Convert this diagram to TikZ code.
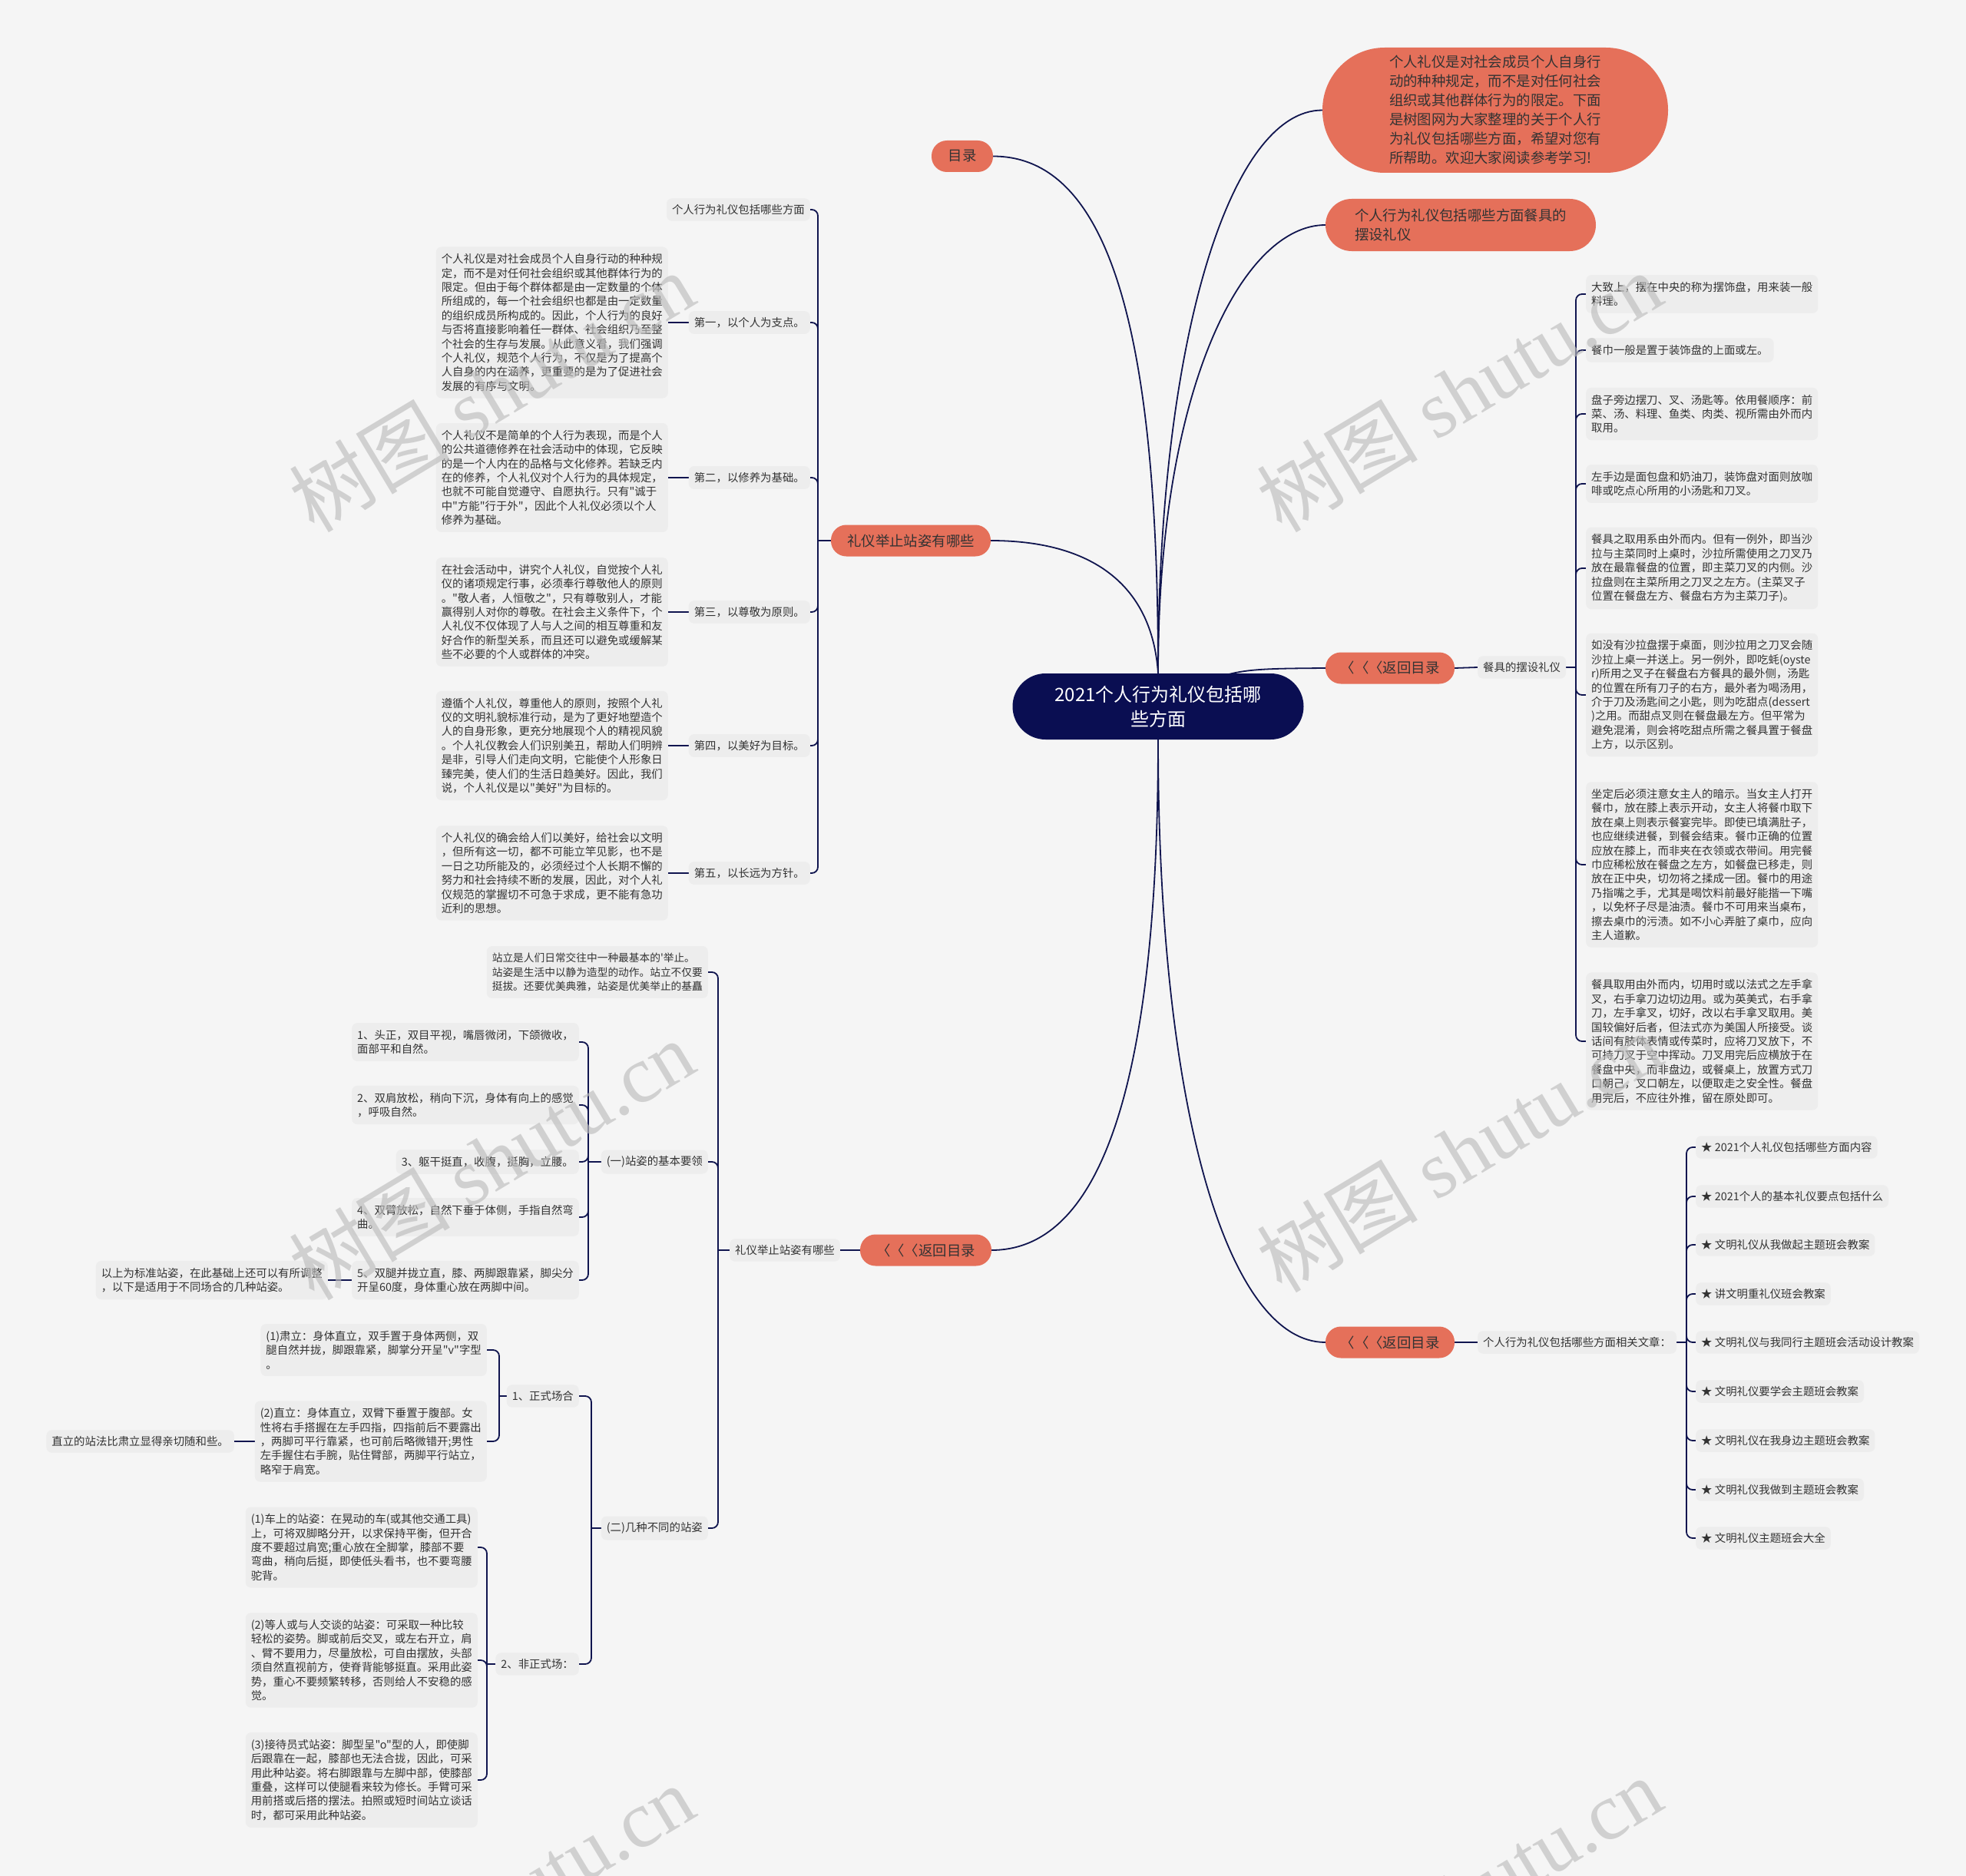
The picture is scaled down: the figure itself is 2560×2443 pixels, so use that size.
\documentclass[tikz,border=0pt]{standalone}
\usepackage{fontspec}
\setmainfont{Noto Sans CJK SC}[Ligatures=TeXOff]
\newfontfamily\wmserif{Liberation Serif}
\usetikzlibrary{calc}
\definecolor{mmnavy}{HTML}{0A0E52}
\definecolor{mmline}{HTML}{10154F}
\definecolor{mmorange}{HTML}{E5705A}
\definecolor{mmbg}{HTML}{F5F5F5}
\definecolor{mmbox}{HTML}{EDEDED}
\definecolor{mmtext}{HTML}{333333}
\definecolor{mmwm}{HTML}{BDBDBD}
\pgfdeclarelayer{back}
\pgfdeclarelayer{bg}
\pgfdeclarelayer{front}
\pgfsetlayers{back,bg,main,front}
\tikzset{
  conn/.style={draw=mmline, line width=1.8pt},
  root/.style={fill=mmnavy, text=white, rounded corners=43pt, minimum width=379pt, minimum height=86pt, align=center, inner sep=0pt, font=\fontsize{24}{32}\selectfont},
  topic/.style={fill=mmorange, text=mmtext, rounded corners=20pt, minimum height=41pt, inner xsep=0pt, inner ysep=0pt, font=\fontsize{18.4}{25}\selectfont},
  leaf/.style={fill=mmbox, text=mmtext, rounded corners=7pt, align=left, inner xsep=7pt, inner ysep=9pt, font=\fontsize{14.4}{18.4}\selectfont},
  lab/.style={fill=mmbox, text=mmtext, rounded corners=7pt, inner xsep=7pt, inner ysep=8pt, font=\fontsize{14.4}{18.4}\selectfont},
  wm/.style={text=mmwm, opacity=0.65, rotate=31, font=\fontsize{105}{110}\selectfont, inner sep=0pt}
}
\newcommand{\mmbrk}[3]{\draw[conn,rounded corners=8pt] (#1,#2) |- (#3);}
\begin{document}
\begin{tikzpicture}[x=1pt,y=-1pt]
\useasboundingbox (0,0) rectangle (2560,2443);
\begin{pgfonlayer}{back}
\fill[mmbg] (0,0) rectangle (2560,2443);
\end{pgfonlayer}

% ---------- main nodes ----------
\node[root] (C) at (1508,920) {2021个人行为礼仪包括哪\\些方面};
\node[topic, minimum width=450pt, minimum height=163pt, rounded corners=81pt, align=left] (B1) at (1947,143.5) {个人礼仪是对社会成员个人自身行\\动的种种规定，而不是对任何社会\\组织或其他群体行为的限定。下面\\是树图网为大家整理的关于个人行\\为礼仪包括哪些方面，希望对您有\\所帮助。欢迎大家阅读参考学习!};
\node[topic, minimum width=352pt, minimum height=68pt, rounded corners=34pt, align=left] (B2) at (1902,293) {个人行为礼仪包括哪些方面餐具的\\摆设礼仪};
\node[topic, minimum width=168pt] (R1) at (1810,870) {〈〈〈返回目录};
\node[topic, minimum width=168pt] (R2) at (1810,1748) {〈〈〈返回目录};
\node[topic, minimum width=80pt] (L1) at (1253,203.5) {目录};
\node[topic, minimum width=208pt] (L2) at (1186,704) {礼仪举止站姿有哪些};
\node[topic, minimum width=171pt] (L3) at (1205.5,1628) {〈〈〈返回目录};

% ---------- right upper ----------
\node[lab, anchor=west] (D1) at (1924,869) {餐具的摆设礼仪};
\node[leaf, anchor=west] (E1) at (2065,383) {大致上，摆在中央的称为摆饰盘，用来装一般\\料理。};
\node[leaf, anchor=west] (E2) at (2065,456) {餐巾一般是置于装饰盘的上面或左。};
\node[leaf, anchor=west] (E3) at (2065,539) {盘子旁边摆刀、叉、汤匙等。依用餐顺序：前\\菜、汤、料理、鱼类、肉类、视所需由外而内\\取用。};
\node[leaf, anchor=west] (E4) at (2065,630) {左手边是面包盘和奶油刀，装饰盘对面则放咖\\啡或吃点心所用的小汤匙和刀叉。};
\node[leaf, anchor=west] (E5) at (2065,740) {餐具之取用系由外而内。但有一例外，即当沙\\拉与主菜同时上桌时，沙拉所需使用之刀叉乃\\放在最靠餐盘的位置，即主菜刀叉的内侧。沙\\拉盘则在主菜所用之刀叉之左方。(主菜叉子\\位置在餐盘左方、餐盘右方为主菜刀子)。};
\node[leaf, anchor=west] (E6) at (2065,905) {如没有沙拉盘摆于桌面，则沙拉用之刀叉会随\\沙拉上桌一并送上。另一例外，即吃蚝(oyste\\r)所用之叉子在餐盘右方餐具的最外侧，汤匙\\的位置在所有刀子的右方，最外者为喝汤用，\\介于刀及汤匙间之小匙，则为吃甜点(dessert\\)之用。而甜点叉则在餐盘最左方。但平常为\\避免混淆，则会将吃甜点所需之餐具置于餐盘\\上方，以示区别。};
\node[leaf, anchor=west] (E7) at (2065,1126) {坐定后必须注意女主人的暗示。当女主人打开\\餐巾，放在膝上表示开动，女主人将餐巾取下\\放在桌上则表示餐宴完毕。即使已填满肚子，\\也应继续进餐，到餐会结束。餐巾正确的位置\\应放在膝上，而非夹在衣领或衣带间。用完餐\\巾应稀松放在餐盘之左方，如餐盘已移走，则\\放在正中央，切勿将之揉成一团。餐巾的用途\\乃指嘴之手，尤其是喝饮料前最好能揩一下嘴\\，以免杯子尽是油渍。餐巾不可用来当桌布，\\擦去桌巾的污渍。如不小心弄脏了桌巾，应向\\主人道歉。};
\node[leaf, anchor=west] (E8) at (2065,1356) {餐具取用由外而内，切用时或以法式之左手拿\\叉，右手拿刀边切边用。或为英美式，右手拿\\刀，左手拿叉，切好，改以右手拿叉取用。美\\国较偏好后者，但法式亦为美国人所接受。谈\\话间有肢体表情或传菜时，应将刀叉放下，不\\可持刀叉于空中挥动。刀叉用完后应横放于在\\餐盘中央，而非盘边，或餐桌上，放置方式刀\\口朝己，叉口朝左，以便取走之安全性。餐盘\\用完后，不应往外推，留在原处即可。};

% ---------- right lower ----------
\node[lab, anchor=west] (D2) at (1924,1748) {个人行为礼仪包括哪些方面相关文章：};
\node[lab, anchor=west] (F1) at (2208,1494) {★ 2021个人礼仪包括哪些方面内容};
\node[lab, anchor=west] (F2) at (2208,1558) {★ 2021个人的基本礼仪要点包括什么};
\node[lab, anchor=west] (F3) at (2208,1621) {★ 文明礼仪从我做起主题班会教案};
\node[lab, anchor=west] (F4) at (2208,1685) {★ 讲文明重礼仪班会教案};
\node[lab, anchor=west] (F5) at (2208,1748) {★ 文明礼仪与我同行主题班会活动设计教案};
\node[lab, anchor=west] (F6) at (2208,1812) {★ 文明礼仪要学会主题班会教案};
\node[lab, anchor=west] (F7) at (2208,1876) {★ 文明礼仪在我身边主题班会教案};
\node[lab, anchor=west] (F8) at (2208,1940) {★ 文明礼仪我做到主题班会教案};
\node[lab, anchor=west] (F9) at (2208,2003) {★ 文明礼仪主题班会大全};

% ---------- left upper ----------
\node[lab, anchor=east] (G0) at (1055,273) {个人行为礼仪包括哪些方面};
\node[lab, anchor=east] (G1) at (1055,420) {第一，以个人为支点。};
\node[lab, anchor=east] (G2) at (1055,622) {第二，以修养为基础。};
\node[lab, anchor=east] (G3) at (1055,797) {第三，以尊敬为原则。};
\node[lab, anchor=east] (G4) at (1055,971) {第四，以美好为目标。};
\node[lab, anchor=east] (G5) at (1055,1137) {第五，以长远为方针。};
\node[leaf, anchor=east] (H1) at (870,420) {个人礼仪是对社会成员个人自身行动的种种规\\定，而不是对任何社会组织或其他群体行为的\\限定。但由于每个群体都是由一定数量的个体\\所组成的，每一个社会组织也都是由一定数量\\的组织成员所构成的。因此，个人行为的良好\\与否将直接影响着任一群体、社会组织乃至整\\个社会的生存与发展。从此意义看，我们强调\\个人礼仪，规范个人行为，不仅是为了提高个\\人自身的内在涵养，更重要的是为了促进社会\\发展的有序与文明。};
\node[leaf, anchor=east] (H2) at (870,622) {个人礼仪不是简单的个人行为表现，而是个人\\的公共道德修养在社会活动中的体现，它反映\\的是一个人内在的品格与文化修养。若缺乏内\\在的修养，个人礼仪对个人行为的具体规定，\\也就不可能自觉遵守、自愿执行。只有"诚于\\中"方能"行于外"，因此个人礼仪必须以个人\\修养为基础。};
\node[leaf, anchor=east] (H3) at (870,797) {在社会活动中，讲究个人礼仪，自觉按个人礼\\仪的诸项规定行事，必须奉行尊敬他人的原则\\。"敬人者，人恒敬之"，只有尊敬别人，才能\\赢得别人对你的尊敬。在社会主义条件下，个\\人礼仪不仅体现了人与人之间的相互尊重和友\\好合作的新型关系，而且还可以避免或缓解某\\些不必要的个人或群体的冲突。};
\node[leaf, anchor=east] (H4) at (870,971) {遵循个人礼仪，尊重他人的原则，按照个人礼\\仪的文明礼貌标准行动，是为了更好地塑造个\\人的自身形象，更充分地展现个人的精视风貌\\。个人礼仪教会人们识别美丑，帮助人们明辨\\是非，引导人们走向文明，它能使个人形象日\\臻完美，使人们的生活日趋美好。因此，我们\\说，个人礼仪是以"美好"为目标的。};
\node[leaf, anchor=east] (H5) at (870,1137) {个人礼仪的确会给人们以美好，给社会以文明\\，但所有这一切，都不可能立竿见影，也不是\\一日之功所能及的，必须经过个人长期不懈的\\努力和社会持续不断的发展，因此，对个人礼\\仪规范的掌握切不可急于求成，更不能有急功\\近利的思想。};

% ---------- left lower ----------
\node[lab, anchor=east] (K0) at (1094,1628) {礼仪举止站姿有哪些};
\node[leaf, anchor=east, font=\fontsize{13.7}{18.4}\selectfont] (K1) at (922,1266) {站立是人们日常交往中一种最基本的'举止。\\站姿是生活中以静为造型的动作。站立不仅要\\挺拔。还要优美典雅，站姿是优美举止的基矗};
\node[lab, anchor=east] (K2) at (922,1513) {(一)站姿的基本要领};
\node[lab, anchor=east] (K3) at (922,1990) {(二)几种不同的站姿};
\node[leaf, anchor=east] (M1) at (754,1357) {1、头正，双目平视，嘴唇微闭，下颌微收，\\面部平和自然。};
\node[leaf, anchor=east] (M2) at (754,1439) {2、双肩放松，稍向下沉，身体有向上的感觉\\，呼吸自然。};
\node[leaf, anchor=east] (M3) at (754,1513) {3、躯干挺直，收腹，挺胸，立腰。};
\node[leaf, anchor=east] (M4) at (754,1585) {4、双臂放松，自然下垂于体侧，手指自然弯\\曲。};
\node[leaf, anchor=east] (M5) at (754,1667) {5、双腿并拢立直，膝、两脚跟靠紧，脚尖分\\开呈60度，身体重心放在两脚中间。};
\node[leaf, anchor=east] (M6) at (427,1667) {以上为标准站姿，在此基础上还可以有所调整\\，以下是适用于不同场合的几种站姿。};
\node[lab, anchor=east] (N1) at (754,1818) {1、正式场合};
\node[lab, anchor=east] (N2) at (754,2167) {2、非正式场：};
\node[leaf, anchor=east] (P1) at (634,1758) {(1)肃立：身体直立，双手置于身体两侧，双\\腿自然并拢，脚跟靠紧，脚掌分开呈"v"字型\\。};
\node[leaf, anchor=east] (P2) at (634,1877) {(2)直立：身体直立，双臂下垂置于腹部。女\\性将右手搭握在左手四指，四指前后不要露出\\，两脚可平行靠紧，也可前后略微错开;男性\\左手握住右手腕，贴住臂部，两脚平行站立，\\略窄于肩宽。};
\node[lab, anchor=east] (P3) at (305,1877) {直立的站法比肃立显得亲切随和些。};
\node[leaf, anchor=east] (Q1) at (622,2015) {(1)车上的站姿：在晃动的车(或其他交通工具)\\上，可将双脚略分开，以求保持平衡，但开合\\度不要超过肩宽;重心放在全脚掌，膝部不要\\弯曲，稍向后挺，即使低头看书，也不要弯腰\\驼背。};
\node[leaf, anchor=east] (Q2) at (622,2162) {(2)等人或与人交谈的站姿：可采取一种比较\\轻松的姿势。脚或前后交叉，或左右开立，肩\\、臂不要用力，尽量放松，可自由摆放，头部\\须自然直视前方，使脊背能够挺直。采用此姿\\势，重心不要频繁转移，否则给人不安稳的感\\觉。};
\node[leaf, anchor=east] (Q3) at (622,2318) {(3)接待员式站姿：脚型呈"o"型的人，即使脚\\后跟靠在一起，膝部也无法合拢，因此，可采\\用此种站姿。将右脚跟靠与左脚中部，使膝部\\重叠，这样可以使腿看来较为修长。手臂可采\\用前搭或后搭的摆法。拍照或短时间站立谈话\\时，都可采用此种站姿。};

% ---------- connectors ----------
\begin{pgfonlayer}{bg}
\draw[conn] (C.north) .. controls (1508,450) and (1450,203.5) .. (L1.east);
\draw[conn] (C.north) .. controls (1508,450) and (1600,143.5) .. (B1.west);
\draw[conn] (C.north) .. controls (1508,500) and (1620,293) .. (B2.west);
\draw[conn] (C.north) .. controls (1500,760) and (1420,704) .. (L2.east);
\draw[conn] (C.center) .. controls (1600,871) .. (R1.west);
\draw[conn] (C.south) .. controls (1508,1450) and (1420,1628) .. (L3.east);
\draw[conn] (C.south) .. controls (1508,1450) and (1600,1748) .. (R2.west);

% right upper
\draw[conn] (R1.east) -- (D1.west);
\draw[conn] (D1.east) -- (2052,869);
\foreach \n in {E1,E2,E3,E4,E5,E6,E7,E8} {\mmbrk{2052}{869}{\n.west}}
% right lower
\draw[conn] (R2.east) -- (D2.west);
\draw[conn] (D2.east) -- (2196,1748);
\foreach \n in {F1,F2,F3,F4,F5,F6,F7,F8,F9} {\mmbrk{2196}{1748}{\n.west}}
% left upper
\draw[conn] (L2.west) -- (1065,704);
\foreach \n in {G0,G1,G2,G3,G4,G5} {\mmbrk{1065}{704}{\n.east}}
\draw[conn] (G1.west) -- (H1.east);
\draw[conn] (G2.west) -- (H2.east);
\draw[conn] (G3.west) -- (H3.east);
\draw[conn] (G4.west) -- (H4.east);
\draw[conn] (G5.west) -- (H5.east);
% left lower
\draw[conn] (L3.west) -- (K0.east);
\draw[conn] (K0.west) -- (935,1628);
\foreach \n in {K1,K2,K3} {\mmbrk{935}{1628}{\n.east}}
\draw[conn] (K2.west) -- (766,1513);
\foreach \n in {M1,M2,M3,M4,M5} {\mmbrk{766}{1513}{\n.east}}
\draw[conn] (M5.west) -- (M6.east);
\draw[conn] (K3.west) -- (770,1990);
\foreach \n in {N1,N2} {\mmbrk{770}{1990}{\n.east}}
\draw[conn] (N1.west) -- (650,1818);
\foreach \n in {P1,P2} {\mmbrk{650}{1818}{\n.east}}
\draw[conn] (P2.west) -- (P3.east);
\draw[conn] (N2.west) -- (634,2167);
\foreach \n in {Q1,Q2,Q3} {\mmbrk{634}{2167}{\n.east}}
\end{pgfonlayer}

% ---------- watermarks ----------
\begin{pgfonlayer}{front}
\begin{scope}
\clip (0,0) rectangle (2560,2443);
\node[wm] (W1) at (640,510) {树图 {\wmserif shutu.cn}};
\node[wm] (W2) at (1900,510) {树图 {\wmserif shutu.cn}};
\node[wm] (W3) at (640,1510) {树图 {\wmserif shutu.cn}};
\node[wm] (W4) at (1900,1500) {树图 {\wmserif shutu.cn}};
\node[wm] (W5) at (640,2480) {树图 {\wmserif shutu.cn}};
\node[wm] (W6) at (1900,2470) {树图 {\wmserif shutu.cn}};
\end{scope}
\end{pgfonlayer}
\end{tikzpicture}
\end{document}
